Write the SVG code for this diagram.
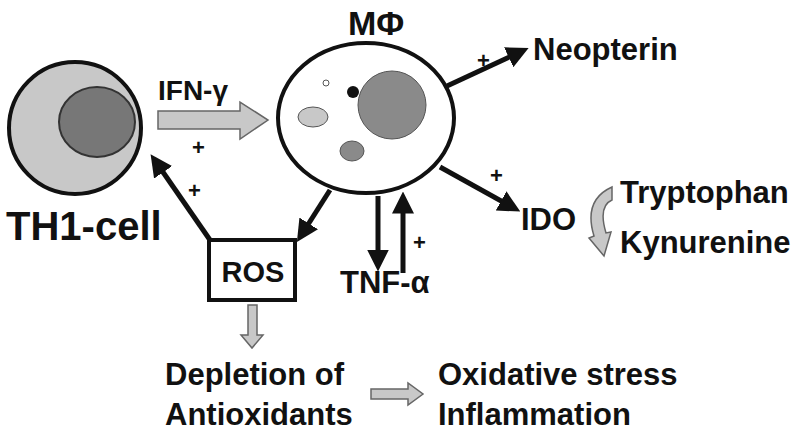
<svg xmlns="http://www.w3.org/2000/svg" width="798" height="435" viewBox="0 0 798 435">
<style>
text{font-family:"Liberation Sans",Arial,sans-serif;font-weight:bold;fill:#111}
.l{font-size:31px}.p{font-size:22px}
.c{stroke:#111;stroke-width:5;fill:none;marker-end:url(#ah)}
.g{fill:#c8c8c8;stroke:#666;stroke-width:1.5}
</style>
<defs><marker id="ah" markerWidth="4.4" markerHeight="4.4" refX="2.5" refY="2.2" orient="auto"><path d="M0,0L4.4,2.2L0,4.4Z" fill="#111"/></marker></defs>
<rect width="798" height="435" fill="#fff"/>
<g id="th1"><circle cx="75" cy="128" r="66" fill="#c8c8c8" stroke="#111" stroke-width="4"/><ellipse cx="97" cy="122" rx="38" ry="35" fill="#777" stroke="#333" stroke-width="2"/><text x="6" y="240" style="font-size:40px">TH1-cell</text></g>
<g id="mphi"><ellipse cx="366" cy="118" rx="88" ry="75" fill="#fff" stroke="#111" stroke-width="4"/><circle cx="392" cy="105" r="34" fill="#8a8a8a" stroke="#555"/><ellipse cx="313" cy="117" rx="15" ry="10" fill="#c8c8c8" stroke="#555"/><ellipse cx="352" cy="151" rx="12" ry="10" fill="#8a8a8a" stroke="#555"/><circle cx="353" cy="92" r="6" fill="#111"/><circle cx="326" cy="83" r="3" fill="#fff" stroke="#555"/><text x="348" y="35" style="font-size:34px">MΦ</text></g>
<g id="ros"><rect x="209" y="240" width="86" height="60" fill="#fff" stroke="#111" stroke-width="4"/><text x="253" y="282" style="font-size:29px" text-anchor="middle">ROS</text></g>
<g id="labels">
<text x="158" y="100" style="font-size:28px">IFN-γ</text>
<text x="340" y="293" class="l">TNF-α</text>
<text x="533" y="60" class="l">Neopterin</text>
<text x="521" y="230" class="l">IDO</text>
<text x="620" y="203" class="l">Tryptophan</text>
<text x="620" y="253" class="l">Kynurenine</text>
<text x="165" y="385" class="l">Depletion of</text>
<text x="165" y="425" class="l">Antioxidants</text>
<text x="438" y="385" class="l">Oxidative stress</text>
<text x="438" y="425" class="l">Inflammation</text>
<text x="192" y="155" class="p">+</text><text x="188" y="198" class="p">+</text><text x="413" y="250" class="p">+</text><text x="477" y="68" class="p">+</text><text x="490" y="183" class="p">+</text>
</g>
<g id="connectors">
<path class="g" d="M158,111H240V102L268,120L240,139V129H158Z"/>
<path class="g" d="M248,305H257V335H263L252,348L241,335H248Z"/>
<path class="g" d="M371,389H408V383L423,394L408,405V399H371Z"/>
<path class="g" d="M612,187Q583,200 594,236L589,238L604,256L611,232L606,233Q598,206 612,200Z"/>
<path class="c" d="M330,190L302,234"/>
<path class="c" d="M210,240L156,162"/>
<path class="c" d="M378,196V262"/>
<path class="c" d="M403,273V201"/>
<path class="c" d="M447,86L520,52"/>
<path class="c" d="M440,167L512,207"/>
</g>
</svg>
